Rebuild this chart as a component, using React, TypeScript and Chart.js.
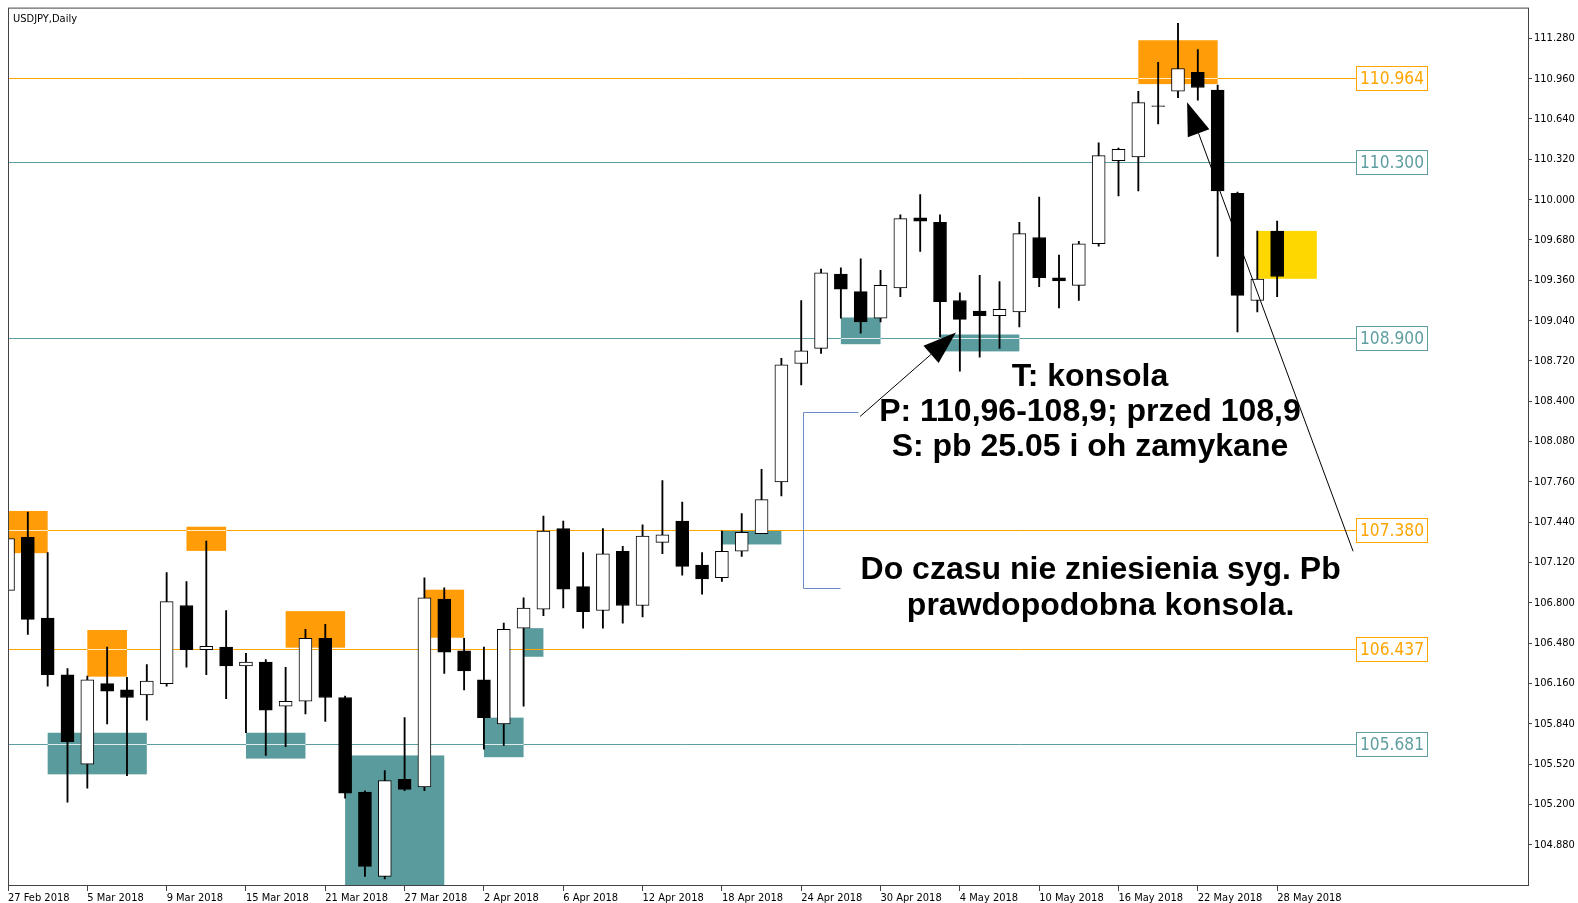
import React, { useEffect, useRef } from "react";
import { Chart, registerables } from "chart.js";

Chart.register(...registerables);

// ---------- DATA ----------
const barDates = [
  "27 Feb 2018", "28 Feb 2018",
  "1 Mar 2018", "2 Mar 2018", "5 Mar 2018", "6 Mar 2018", "7 Mar 2018", "8 Mar 2018", "9 Mar 2018",
  "12 Mar 2018", "13 Mar 2018", "14 Mar 2018", "15 Mar 2018", "16 Mar 2018", "19 Mar 2018", "20 Mar 2018",
  "21 Mar 2018", "22 Mar 2018", "23 Mar 2018", "26 Mar 2018", "27 Mar 2018", "28 Mar 2018", "29 Mar 2018",
  "30 Mar 2018", "2 Apr 2018", "3 Apr 2018", "4 Apr 2018", "5 Apr 2018", "6 Apr 2018", "9 Apr 2018",
  "10 Apr 2018", "11 Apr 2018", "12 Apr 2018", "13 Apr 2018", "16 Apr 2018", "17 Apr 2018", "18 Apr 2018",
  "19 Apr 2018", "20 Apr 2018", "23 Apr 2018", "24 Apr 2018", "25 Apr 2018", "26 Apr 2018", "27 Apr 2018",
  "30 Apr 2018", "1 May 2018", "2 May 2018", "3 May 2018", "4 May 2018", "7 May 2018", "8 May 2018",
  "9 May 2018", "10 May 2018", "11 May 2018", "14 May 2018", "15 May 2018", "16 May 2018", "17 May 2018",
  "18 May 2018", "21 May 2018", "22 May 2018", "23 May 2018", "24 May 2018", "25 May 2018", "28 May 2018",
];

const openPrices = [
  106.90, 107.32, 106.68, 106.23, 105.52, 106.16, 106.11, 106.07, 106.16, 106.78,
  106.43, 106.45, 106.30, 106.33, 105.98, 106.02, 106.52, 106.05, 105.30, 104.63,
  105.40, 105.34, 106.83, 106.42, 106.19, 105.84, 106.60, 106.75, 107.39, 106.93,
  106.74, 107.21, 106.78, 107.28, 107.45, 107.10, 107.00, 107.21, 107.35, 107.76,
  108.70, 108.82, 109.41, 109.27, 109.06, 109.30, 109.855, 109.82, 109.20, 109.115,
  109.08, 109.11, 109.70, 109.38, 109.32, 109.65, 110.31, 110.34, 110.745, 110.86,
  111.01, 110.87, 110.05, 109.20, 109.75,
];
const highPrices = [
  107.42, 107.52, 107.20, 106.28, 106.22, 106.45, 106.21, 106.31, 107.04, 106.97,
  107.29, 106.74, 106.40, 106.35, 106.29, 106.59, 106.63, 106.06, 105.31, 105.47,
  105.89, 107.00, 106.92, 106.52, 106.45, 106.64, 106.84, 107.49, 107.45, 107.20,
  107.39, 107.25, 107.42, 107.77, 107.60, 107.20, 107.37, 107.51, 107.86, 108.74,
  109.20, 109.45, 109.46, 109.53, 109.44, 109.88, 110.04, 109.88, 109.26, 109.40,
  109.35, 109.82, 110.02, 109.56, 109.67, 110.45, 110.41, 110.86, 111.09, 111.40,
  111.19, 110.91, 110.06, 109.75, 109.83,
];
const lowPrices = [
  106.80, 106.55, 106.14, 105.22, 105.33, 105.84, 105.43, 105.87, 106.14, 106.29,
  106.23, 106.04, 105.77, 105.59, 105.66, 105.92, 105.86, 105.25, 104.63, 104.61,
  105.31, 105.31, 106.24, 106.11, 105.64, 105.67, 105.98, 106.70, 106.76, 106.60,
  106.60, 106.64, 106.69, 107.19, 107.02, 106.87, 106.97, 107.17, 107.35, 107.65,
  108.53, 108.78, 109.06, 108.94, 109.03, 109.23, 109.59, 108.91, 108.64, 108.75,
  108.82, 108.99, 109.31, 109.14, 109.20, 109.63, 110.03, 110.07, 110.60, 110.81,
  110.79, 109.55, 108.95, 109.11, 109.23,
];
const closePrices = [
  107.31, 106.67, 106.23, 105.70, 106.19, 106.10, 106.05, 106.18, 106.81, 106.43,
  106.456, 106.30, 106.33, 105.95, 106.02, 106.52, 106.05, 105.29, 104.71, 105.39,
  105.32, 106.84, 106.41, 106.26, 105.89, 106.59, 106.76, 107.37, 106.91, 106.73,
  107.19, 106.78, 107.33, 107.34, 107.09, 106.99, 107.21, 107.36, 107.62, 108.69,
  108.80, 109.42, 109.29, 109.03, 109.32, 109.85, 109.83, 109.19, 109.05, 109.08,
  109.13, 109.73, 109.38, 109.355, 109.65, 110.35, 110.40, 110.77, 110.74, 111.04,
  110.89, 110.07, 109.24, 109.37, 109.39,
];

const dateTickBars = [0, 4, 8, 12, 16, 20, 24, 28, 32, 36, 40, 44, 48, 52, 56, 60, 64];
const priceTicks = [
  104.88, 105.2, 105.52, 105.84, 106.16, 106.48, 106.8, 107.12, 107.44, 107.76,
  108.08, 108.4, 108.72, 109.04, 109.36, 109.68, 110.0, 110.32, 110.64, 110.96, 111.28,
];

// horizontal levels
const levelPrices = [110.964, 110.3, 108.9, 107.38, 106.437, 105.681];
const levelKinds = ["orange", "teal", "teal", "orange", "orange", "teal"];
const levelLabelBar = 68;

// rectangles (zones)
const zoneFromBar = [-2, 2, 4, 9, 12, 14, 17, 21, 24, 26, 36, 42, 47, 57, 63];
const zoneToBar = [2, 7, 6, 11, 15, 17, 22, 23, 26, 27, 39, 44, 51, 61, 66];
const zoneHigh = [107.53, 105.77, 106.585, 107.405, 105.77, 106.735, 105.59, 106.905, 105.89, 106.60, 107.375, 109.065, 108.93, 111.265, 109.752];
const zoneLow = [107.195, 105.44, 106.215, 107.213, 105.565, 106.445, 104.40, 106.524, 105.576, 106.373, 107.264, 108.853, 108.796, 110.917, 109.372];
const zoneKinds = ["orange", "teal", "orange", "orange", "teal", "orange", "teal", "orange", "teal", "teal", "teal", "teal", "teal", "orange", "yellow"];

// arrows
const arrowFromBar = [42.97, 67.83];
const arrowFromPrice = [108.28, 107.21];
const arrowToBar = [47.8, 59.46];
const arrowToPrice = [108.945, 110.772];

// blue bracket
const bracketBars = [42.86, 40.09, 40.09, 41.96];
const bracketPrices = [108.314, 108.314, 106.922, 106.922];

// notes
const noteLines = [
  "T: konsola",
  "P: 110,96-108,9; przed 108,9",
  "S: pb 25.05 i oh zamykane",
  "Do czasu nie zniesienia syg. Pb",
  "prawdopodobna konsola.",
];
const noteBars = [54.56, 54.56, 54.56, 55.1, 55.1];
const notePrices = [108.593, 108.315, 108.037, 107.057, 106.778];

const chartTitle = "USDJPY,Daily";

const X_MIN = 0;
const X_MAX = 76.65;
const Y_MIN = 104.554;
const Y_MAX = 111.516;

// ---------- STYLE ----------
const SMALL_FONT = "'DejaVu Sans Condensed', 'DejaVu Sans', sans-serif";
const BOLD_FONT = "'Liberation Sans', Arial, sans-serif";
const lineColors: Record<string, string> = { orange: "#FFA500", teal: "#5F9EA0" };
const zoneColors: Record<string, string> = { orange: "#FF9C08", teal: "#5A9B9D", yellow: "#FFD700" };

function drawArrow(ctx: CanvasRenderingContext2D, x1: number, y1: number, x2: number, y2: number) {
  const ang = Math.atan2(y2 - y1, x2 - x1);
  const len = 33;
  const hw = 11.5;
  const bx = x2 - len * Math.cos(ang);
  const by = y2 - len * Math.sin(ang);
  ctx.beginPath();
  ctx.moveTo(x1, y1);
  ctx.lineTo(bx, by);
  ctx.stroke();
  ctx.beginPath();
  ctx.moveTo(x2, y2);
  ctx.lineTo(bx + hw * Math.sin(ang), by - hw * Math.cos(ang));
  ctx.lineTo(bx - hw * Math.sin(ang), by + hw * Math.cos(ang));
  ctx.closePath();
  ctx.fill();
}

const overlayPlugin = {
  id: "overlay",
  beforeDatasetsDraw(chart: any) {
    const { ctx, chartArea: ca, scales } = chart;
    const x = scales.x;
    const y = scales.y;
    ctx.save();
    ctx.beginPath();
    ctx.rect(ca.left, ca.top, ca.right - ca.left, ca.bottom - ca.top);
    ctx.clip();
    // zones
    zoneFromBar.forEach((from, i) => {
      const x0 = x.getPixelForValue(from);
      const x1 = x.getPixelForValue(zoneToBar[i]);
      const y0 = y.getPixelForValue(zoneHigh[i]);
      const y1 = y.getPixelForValue(zoneLow[i]);
      ctx.fillStyle = zoneColors[zoneKinds[i]];
      ctx.fillRect(x0, y0, x1 - x0, y1 - y0);
    });
    // level lines
    const boxLeft = x.getPixelForValue(levelLabelBar);
    levelPrices.forEach((p, i) => {
      const py = Math.round(y.getPixelForValue(p)) + 0.5;
      ctx.strokeStyle = lineColors[levelKinds[i]];
      ctx.lineWidth = 1;
      ctx.beginPath();
      ctx.moveTo(ca.left, py);
      ctx.lineTo(boxLeft, py);
      ctx.stroke();
      // light segment where the line crosses a zone of its own colour
      zoneFromBar.forEach((from, j) => {
        if (zoneKinds[j] !== levelKinds[i]) return;
        if (p > zoneHigh[j] - 0.01 || p < zoneLow[j] + 0.01) return;
        const x0 = Math.max(ca.left, x.getPixelForValue(from));
        const x1 = Math.min(boxLeft, x.getPixelForValue(zoneToBar[j]));
        ctx.strokeStyle = "rgba(255,255,255,0.8)";
        ctx.beginPath();
        ctx.moveTo(x0, py);
        ctx.lineTo(x1, py);
        ctx.stroke();
      });
    });
    ctx.restore();
  },
  afterDatasetsDraw(chart: any) {
    const { ctx, chartArea: ca, scales } = chart;
    const x = scales.x;
    const y = scales.y;
    ctx.save();
    ctx.beginPath();
    ctx.rect(ca.left, ca.top, ca.right - ca.left, ca.bottom - ca.top);
    ctx.clip();

    // level label boxes
    const boxLeft = Math.round(x.getPixelForValue(levelLabelBar)) + 0.5;
    const boxW = 71;
    const boxH = 24;
    ctx.font = `18px ${SMALL_FONT}`;
    const w18 = ctx.measureText("110.964").width;
    const fs = Math.min(18, (18 * 64) / w18);
    levelPrices.forEach((p, i) => {
      const py = Math.round(y.getPixelForValue(p)) + 0.5;
      const col = lineColors[levelKinds[i]];
      ctx.fillStyle = "#ffffff";
      ctx.fillRect(boxLeft, py - boxH / 2, boxW, boxH);
      ctx.strokeStyle = col;
      ctx.lineWidth = 1;
      ctx.strokeRect(boxLeft, py - boxH / 2, boxW, boxH);
      ctx.fillStyle = col;
      ctx.font = `${fs}px ${SMALL_FONT}`;
      ctx.textAlign = "center";
      ctx.textBaseline = "middle";
      ctx.fillText(p.toFixed(3), boxLeft + boxW / 2, py + 1);
    });

    // blue bracket
    ctx.strokeStyle = "#6A8ACB";
    ctx.lineWidth = 1;
    ctx.beginPath();
    bracketBars.forEach((b, i) => {
      const px = Math.round(x.getPixelForValue(b)) + 0.5;
      const py = Math.round(y.getPixelForValue(bracketPrices[i])) + 0.5;
      if (i === 0) ctx.moveTo(px, py);
      else ctx.lineTo(px, py);
    });
    ctx.stroke();

    // arrows
    ctx.strokeStyle = "#000000";
    ctx.fillStyle = "#000000";
    ctx.lineWidth = 1;
    arrowFromBar.forEach((b, i) => {
      drawArrow(
        ctx,
        x.getPixelForValue(b),
        y.getPixelForValue(arrowFromPrice[i]),
        x.getPixelForValue(arrowToBar[i]),
        y.getPixelForValue(arrowToPrice[i])
      );
    });

    // notes
    ctx.font = `bold 32px ${BOLD_FONT}`;
    ctx.textAlign = "center";
    ctx.textBaseline = "middle";
    ctx.fillStyle = "#000000";
    noteLines.forEach((t, i) => {
      ctx.fillText(t, x.getPixelForValue(noteBars[i]), y.getPixelForValue(notePrices[i]));
    });

    // title
    ctx.font = `11px ${SMALL_FONT}`;
    ctx.textAlign = "left";
    ctx.textBaseline = "alphabetic";
    ctx.fillText(chartTitle, ca.left + 5, ca.top + 13);
    ctx.restore();

    // frame
    ctx.save();
    ctx.strokeStyle = "#444444";
    ctx.lineWidth = 1;
    ctx.strokeRect(ca.left + 0.5, ca.top - 0.5, ca.right - ca.left, ca.bottom - ca.top);
    ctx.restore();
  },
};

export default function App() {
  const canvasRef = useRef<HTMLCanvasElement | null>(null);

  useEffect(() => {
    if (!canvasRef.current) return;
    const wickData = lowPrices.map((l, i) => ({ x: i, y: [l, highPrices[i]] }));
    const bodyData = openPrices.map((o, i) => ({ x: i, y: [o, closePrices[i]] }));
    const chart = new Chart(canvasRef.current, {
      type: "bar",
      data: {
        datasets: [
          {
            label: "wicks",
            data: wickData as any,
            backgroundColor: "#000000",
            borderWidth: 0,
            barThickness: 1.2,
            grouped: false,
            order: 2,
          } as any,
          {
            label: "bodies",
            data: bodyData as any,
            backgroundColor: (c: any) =>
              closePrices[c.dataIndex] >= openPrices[c.dataIndex] ? "#ffffff" : "#000000",
            borderColor: "#000000",
            borderWidth: 1,
            borderSkipped: false,
            barThickness: 13,
            grouped: false,
            order: 1,
          } as any,
        ],
      },
      options: {
        animation: false,
        responsive: false,
        devicePixelRatio: 1,
        events: [],
        layout: { padding: { left: 8, top: 6, right: 0, bottom: 0 } },
        plugins: { legend: { display: false }, tooltip: { enabled: false }, title: { display: false } },
        scales: {
          x: {
            type: "linear",
            position: "bottom",
            offset: false,
            min: X_MIN,
            max: X_MAX,
            grid: { offset: false, drawOnChartArea: false, drawTicks: true, tickLength: 5, color: "#444444" },
            border: { display: false },
            ticks: {
              autoSkip: false,
              maxRotation: 0,
              minRotation: 0,
              align: "start",
              padding: 1,
              color: "#000000",
              font: { family: SMALL_FONT, size: 11 },
              callback: (v: any) => barDates[Math.round(Number(v))] ?? "",
            },
            afterBuildTicks: (s: any) => {
              s.ticks = dateTickBars.map((v) => ({ value: v }));
            },
            afterFit: (s: any) => {
              s.height = 17;
            },
          },
          y: {
            type: "linear",
            position: "right",
            min: Y_MIN,
            max: Y_MAX,
            grid: { drawOnChartArea: false, drawTicks: true, tickLength: 4, color: "#444444" },
            border: { display: false },
            ticks: {
              padding: 2,
              color: "#000000",
              font: { family: SMALL_FONT, size: 11 },
              callback: (v: any) => Number(v).toFixed(3),
            },
            afterBuildTicks: (s: any) => {
              s.ticks = priceTicks.map((v) => ({ value: v }));
            },
            afterFit: (s: any) => {
              s.width = 50;
            },
          },
        },
      } as any,
      plugins: [overlayPlugin],
    });
    return () => chart.destroy();
  }, []);

  return (
    <div style={{ position: "fixed", left: 0, top: 0, width: 1578, height: 903, background: "#ffffff" }}>
      <canvas ref={canvasRef} width={1578} height={903} style={{ display: "block" }} />
    </div>
  );
}
